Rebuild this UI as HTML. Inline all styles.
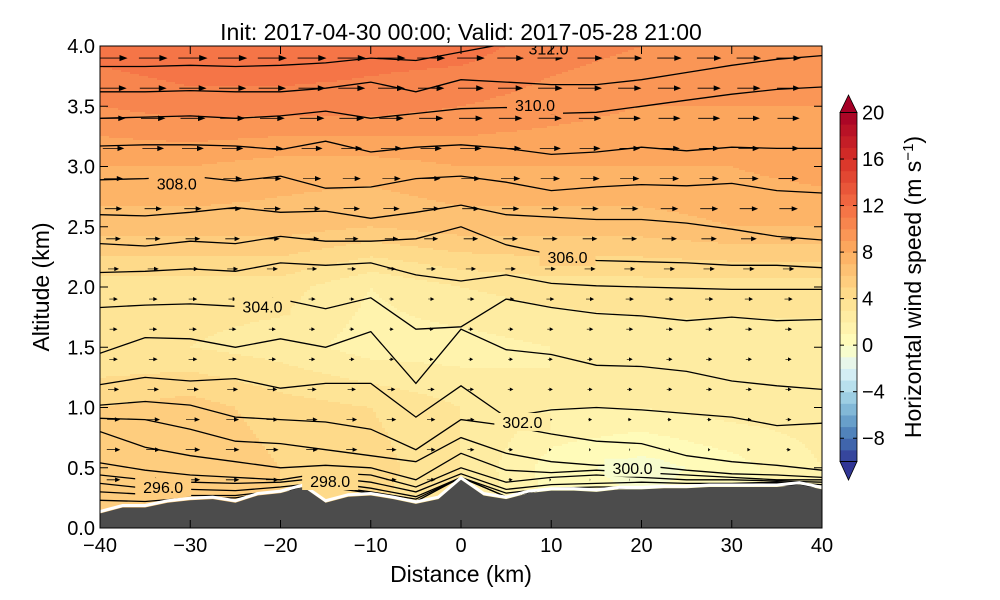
<!DOCTYPE html>
<html><head><meta charset="utf-8"><style>
body{margin:0;background:#fff;}
svg{display:block;font-family:"Liberation Sans",sans-serif;}
</style></head><body>
<svg id="c" width="1000" height="600" viewBox="0 0 1000 600" xmlns="http://www.w3.org/2000/svg">
<defs><clipPath id="pc"><rect x="100" y="46" width="722" height="482"/></clipPath></defs>
<g id="field" clip-path="url(#pc)"></g>
<g id="quiver" clip-path="url(#pc)"></g>
<g id="isent" clip-path="url(#pc)"></g>
<g id="terrain" clip-path="url(#pc)"></g>
<g id="labels" clip-path="url(#pc)"></g>
<rect x="100" y="46" width="722" height="482" fill="none" stroke="#000" stroke-width="1"/>
<g id="axes"></g>
<text x="461" y="40" font-size="23" text-anchor="middle">Init: 2017-04-30 00:00; Valid: 2017-05-28 21:00</text>
<text x="461" y="582" font-size="23" text-anchor="middle">Distance (km)</text>
<text transform="translate(49,287) rotate(-90)" font-size="23" text-anchor="middle">Altitude (km)</text>
<g id="cbar"></g>
<text transform="translate(921,287) rotate(-90)" font-size="23" text-anchor="middle">Horizontal wind speed (m s<tspan dy="-8" font-size="15">−1</tspan><tspan dy="8">)</tspan></text>
</svg>
<script>
const NS="http://www.w3.org/2000/svg";
// ---- data ----
const gridX=[-40,-30,-20,-10,0,10,20,30,40];
const gridZ=[0,0.5,1,1.5,2,2.5,3,3.5,4];
const speed=[
[5,5,5,4,3,1,0.5,1,2],
[5.5,6,5,4.5,3,0.5,-0.5,0.5,2],
[5,5.5,4.5,4,3,2,2,2.5,2.5],
[3,3,2.5,1.5,1.5,2,2.5,2.5,2.5],
[3.5,3.5,3.5,2,3,3.5,3.5,3.5,3.5],
[6.5,6.5,6.5,6,6.5,6.5,6.5,7,7],
[8,8,7.5,7.5,8,8,8,8,8.5],
[10,10.5,10.5,10.5,10,9.5,9,9,9],
[11.5,12,12,11.5,11.5,10.5,10,10,10]];
const terrainX=[-40,-37.5,-35,-32.5,-30,-27.5,-25,-22.5,-20,-17.5,-15,-12.5,-10,-7.5,-5,-2.5,0,2.5,5,7.5,10,12.5,15,17.5,20,22.5,25,27.5,30,32.5,35,37.5,40];
const terrainZ=[.12,.17,.17,.21,.23,.24,.21,.27,.29,.34,.21,.26,.27,.24,.20,.24,.40,.27,.24,.29,.31,.31,.30,.32,.32,.33,.33,.34,.34,.34,.34,.36,.32];
const lineX=[-40,-35,-30,-25,-20,-15,-10,-5,0,5,10,15,20,25,30,35,40];
const isentropes=[
[3.83,3.83,3.84,3.83,3.84,3.86,3.90,3.88,3.95,4.02,4.05,4.05,4.05,4.05,4.05,4.05,4.05],
[3.62,3.62,3.63,3.62,3.62,3.65,3.70,3.62,3.72,3.70,3.68,3.68,3.72,3.78,3.84,3.89,3.92],
[3.40,3.41,3.42,3.40,3.42,3.46,3.40,3.44,3.48,3.49,3.44,3.45,3.50,3.55,3.60,3.64,3.66],
[3.17,3.18,3.18,3.17,3.14,3.21,3.12,3.16,3.18,3.15,3.10,3.12,3.16,3.13,3.16,3.15,3.15],
[2.89,2.90,2.92,2.88,2.92,2.82,2.83,2.90,2.92,2.87,2.80,2.83,2.85,2.84,2.86,2.80,2.78],
[2.60,2.59,2.62,2.66,2.62,2.63,2.57,2.62,2.68,2.60,2.58,2.56,2.56,2.53,2.48,2.42,2.39],
[2.36,2.34,2.38,2.36,2.42,2.38,2.38,2.40,2.50,2.35,2.27,2.22,2.21,2.20,2.18,2.18,2.16],
[2.12,2.13,2.15,2.13,2.20,2.18,2.20,2.10,2.05,2.10,2.03,2.01,2.00,1.99,1.98,1.98,1.98],
[1.83,1.85,1.86,1.84,1.90,1.82,1.91,1.65,1.67,1.90,1.83,1.78,1.76,1.72,1.75,1.72,1.73],
[1.45,1.58,1.57,1.50,1.57,1.50,1.63,1.20,1.65,1.48,1.44,1.35,1.34,1.30,1.22,1.18,1.15],
[1.19,1.25,1.22,1.24,1.16,1.20,1.20,0.92,1.18,0.92,0.98,1.00,0.98,0.95,0.92,0.85,0.87],
[1.02,1.05,1.02,0.92,0.90,0.88,0.82,0.65,0.90,0.85,0.78,0.72,0.70,0.60,0.55,0.52,0.48],
[0.91,0.90,0.82,0.72,0.70,0.65,0.60,0.55,0.75,0.62,0.55,0.52,0.52,0.48,0.45,0.44,0.42],
[0.80,0.67,0.60,0.55,0.50,0.52,0.50,0.40,0.62,0.48,0.46,0.48,0.46,0.44,0.42,0.40,0.40],
[0.54,0.48,0.44,0.42,0.40,0.46,0.44,0.34,0.50,0.38,0.42,0.44,0.42,0.40,0.40,0.39,0.38],
[0.44,0.40,0.38,0.37,0.38,0.42,0.38,0.30,0.45,0.32,0.36,0.37,0.38,0.37,0.37,0.38,0.36],
[0.37,0.33,0.32,0.31,0.34,0.38,0.33,0.26,0.42,0.29,0.32,0.34,0.34,0.35,0.35,0.37,0.34],
[0.30,0.28,0.27,0.27,0.31,0.35,0.30,0.24,0.41,0.26,0.30,0.32,0.33,0.34,0.34,0.36,0.33],
[0.23,0.22,0.24,0.25,0.30,0.34,0.28,0.22,0.40,0.25,0.30,0.31,0.32,0.33,0.34,0.36,0.32]];
const labelText=["296.0","298.0","300.0","302.0","304.0","306.0","308.0","310.0","312.0"];
const labelX=[-33.0,-14.5,19.0,6.8,-22.0,11.8,-31.5,8.2,9.7];
const labelZ=[0.34,0.39,0.50,0.88,1.84,2.25,2.86,3.51,3.98];
const xTicks=[-40,-30,-20,-10,0,10,20,30,40];
const yTicks=[0,0.5,1,1.5,2,2.5,3,3.5,4];
const cbTicks=[-8,-4,0,4,8,12,16,20];
// ---- scales ----
const X=x=>100+(x+40)/80*722;
const Y=z=>528-z/4*482;
const CB=v=>461.5-(v+10)/30*349;
function mk(tag,attrs,parent){const e=document.createElementNS(NS,tag);for(const k in attrs)e.setAttribute(k,attrs[k]);parent.appendChild(e);return e;}
const stops=[[0,[49,54,149]],[.1,[69,117,180]],[.2,[116,173,209]],[.3,[171,217,233]],[.4,[224,243,248]],[.5,[255,255,191]],[.6,[254,224,144]],[.7,[253,174,97]],[.8,[244,109,67]],[.9,[215,48,39]],[1,[165,0,38]]];
function cmapT(t){t=Math.max(0,Math.min(1,t));for(let i=1;i<stops.length;i++){if(t<=stops[i][0]){const a=stops[i-1],b=stops[i],f=(t-a[0])/(b[0]-a[0]);return 'rgb('+a[1].map((c,j)=>Math.round(c+(b[1][j]-c)*f)).join(',')+')';}}return 'rgb(165,0,38)';}
function col(v){const t=v<0?(v+10)/20:0.5+v/40;return cmapT(t);}
function levelColor(v){const l=Math.floor(v);return col(l+0.5);}
function interp1(xs,ys,x){if(x<=xs[0])return ys[0];for(let i=1;i<xs.length;i++){if(x<=xs[i]){const f=(x-xs[i-1])/(xs[i]-xs[i-1]);return ys[i-1]+(ys[i]-ys[i-1])*f;}}return ys[ys.length-1];}
function spd(x,z){const row=gridZ.map((_,i)=>interp1(gridX,speed[i],x));return interp1(gridZ,row,z);}
function terr(x){return interp1(terrainX,terrainZ,x);}
// ---- field ----
const field=document.getElementById('field');
for(let px=100;px<822;px+=3){
  const x=(px+1.5-100)/722*80-40;
  let start=46,cur=null;
  for(let py=46;py<=528;py+=2){
    const z=(528-py-1)/482*4;
    const c=levelColor(spd(x,z));
    if(cur===null)cur=c;
    if(c!==cur||py>=528){
      const r=mk('rect',{x:px,y:start,width:3.6,height:py-start+0.6,fill:cur},field);
      
      
      start=py;cur=c;
    }
  }
}
// ---- quiver ----
const quiver=document.getElementById('quiver');
for(let x=-38.5;x<=40;x+=4.4){
  for(let z=0.15;z<4;z+=0.25){
    if(z<terr(x)+0.08)continue;
    const u=spd(x,z);
    const L=Math.abs(u)*2.5, s=Math.sign(u)||1;
    const x0=X(x)-L/2*s, y0=Y(z);
    const hl=Math.min(L,2.5+L*0.2), hw=1.6+L*0.05, sw=0.5+L*0.015;
    const p=[[0,-sw/2],[L-hl,-sw/2],[L-hl,-hw],[L,0],[L-hl,hw],[L-hl,sw/2],[0,sw/2]].map(q=>(x0+q[0]*s).toFixed(1)+','+(y0+q[1]).toFixed(1)).join(' ');
    const a=mk('polygon',{points:p,fill:'#000'},quiver);
    
    
  }
}
// ---- isentropes ----
const isent=document.getElementById('isent');
isentropes.forEach(line=>{
  const pts=lineX.map((x,i)=>X(x).toFixed(1)+','+Y(Math.max(line[i],terr(x)+0.02)).toFixed(1)).join(' ');
  const pl=mk('polyline',{points:pts,fill:'none',stroke:'#000','stroke-width':1.3},isent);
  
  
});
// ---- terrain ----
const tg=document.getElementById('terrain');
let tp=terrainX.map((x,i)=>X(x).toFixed(1)+','+Y(terrainZ[i]).toFixed(1));
const wl=mk('polyline',{points:terrainX.map((x,i)=>X(x).toFixed(1)+','+(Y(terrainZ[i])-2).toFixed(1)).join(' '),fill:'none',stroke:'#fff','stroke-width':3},tg);


const tpoly=mk('polygon',{points:tp.join(' ')+' 822,530 100,530',fill:'#4c4c4c'},tg);


// ---- labels ----
const lg=document.getElementById('labels');
labelText.forEach((t,i)=>{
  const px=X(labelX[i]),py=Y(labelZ[i]);
  const bg=levelColor(spd(labelX[i],labelZ[i]));
  const r=mk('rect',{x:px-28,y:py-9,width:56,height:18,fill:bg},lg);
  
  
  const tx=mk('text',{x:px,y:py+6,'font-size':16,'text-anchor':'middle',fill:'#000'},lg);
  tx.textContent=t;
  
  
});
// ---- axes ----
const ax=document.getElementById('axes');
xTicks.forEach(v=>{
  const px=X(v);
  mk('line',{x1:px,x2:px,y1:528,y2:520,stroke:'#000'},ax);
  mk('line',{x1:px,x2:px,y1:46,y2:54,stroke:'#000'},ax);
  const t=mk('text',{x:px,y:552,'font-size':20,'text-anchor':'middle'},ax);
  t.textContent=v<0?'−'+(-v):String(v);
  
  
});
yTicks.forEach(v=>{
  const py=Y(v);
  mk('line',{x1:100,x2:108,y1:py,y2:py,stroke:'#000'},ax);
  mk('line',{x1:822,x2:814,y1:py,y2:py,stroke:'#000'},ax);
  const t=mk('text',{x:95,y:py+7,'font-size':20,'text-anchor':'end'},ax);
  t.textContent=v.toFixed(1);
  
  
});
// ---- colorbar ----
const cb=document.getElementById('cbar');
for(let v=-10;v<20;v++){
  const r=mk('rect',{x:840,y:CB(v+1),width:17,height:CB(v)-CB(v+1)+0.5,fill:col(v+0.5)},cb);
  
  
}
mk('polygon',{points:'840,'+CB(20)+' 848.5,95 857,'+CB(20),fill:col(20.5),stroke:'#000','stroke-width':0.8},cb);
mk('polygon',{points:'840,'+CB(-10)+' 848.5,480 857,'+CB(-10),fill:col(-10.5),stroke:'#000','stroke-width':0.8},cb);
mk('rect',{x:840,y:CB(20),width:17,height:CB(-10)-CB(20),fill:'none',stroke:'#000','stroke-width':0.8},cb);
cbTicks.forEach(v=>{
  const py=CB(v);
  mk('line',{x1:840,x2:844,y1:py,y2:py,stroke:'#000'},cb);
  mk('line',{x1:857,x2:853,y1:py,y2:py,stroke:'#000'},cb);
  const t=mk('text',{x:862,y:py+7,'font-size':20},cb);
  t.textContent=v<0?'−'+(-v):String(v);
  
  
});
</script>
</body></html>
